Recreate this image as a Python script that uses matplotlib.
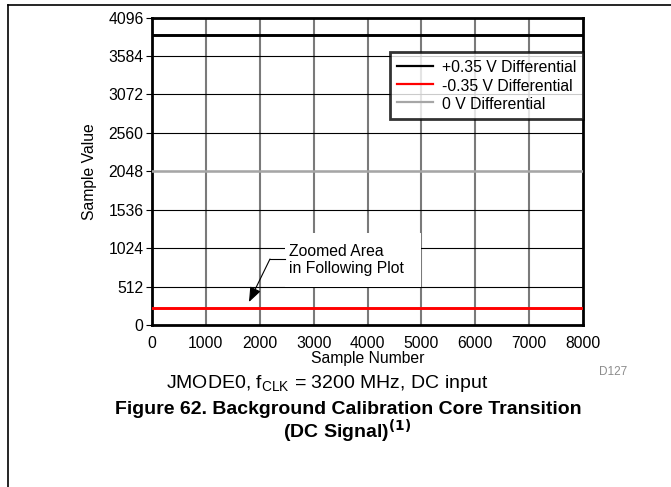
import matplotlib
matplotlib.use("Agg")
from matplotlib import pyplot as plt
from matplotlib.lines import Line2D
from matplotlib.patches import Rectangle

plt.rcParams['font.family'] = ['Liberation Sans', 'DejaVu Sans']

# data
samples = [0, 8000]
pos_diff = [3866, 3866]
neg_diff = [230, 230]
zero_diff = [2046, 2046]
series_labels = ['+0.35 V Differential', '-0.35 V Differential', '0 V Differential']
yticks = [0, 512, 1024, 1536, 2048, 2560, 3072, 3584, 4096]
xticks = [0, 1000, 2000, 3000, 4000, 5000, 6000, 7000, 8000]

W, H = 671, 487
fig = plt.figure(figsize=(W / 100, H / 100), dpi=100)

# page frame lines
fig.add_artist(Line2D([8 / W, 8 / W], [0, 1 - 5 / H], color='black', lw=1.2))
fig.add_artist(Line2D([8 / W, 1], [1 - 5 / H, 1 - 5 / H], color='black', lw=1.2))

ax = fig.add_axes([152 / W, 1 - 325 / H, 431 / W, 307.5 / H])
ax.set_xlim(0, 8000)
ax.set_ylim(0, 4096)
ax.set_xticks(xticks)
ax.set_yticks(yticks)
ax.tick_params(axis='x', length=0, pad=8, labelsize=11.3)
ax.tick_params(axis='y', length=4, width=0.8, pad=2, labelsize=11.3)
for s in ax.spines.values():
    s.set_linewidth(2)

for x in xticks[1:-1]:
    ax.axvline(x, color='#7a7a7a', lw=1.5, zorder=1)
for y in yticks[1:-1]:
    ax.axhline(y, color='black', lw=0.8, zorder=1)

ax.plot(samples, pos_diff, color='black', lw=2.1, zorder=3, label=series_labels[0])
ax.plot(samples, neg_diff, color='#ff0000', lw=2.1, zorder=3, label=series_labels[1])
ax.plot(samples, zero_diff, color='#a6a6a6', lw=1.8, zorder=3, label=series_labels[2])

ax.set_xlabel('Sample Number', fontsize=11.3, labelpad=0)
ax.set_ylabel('Sample Value', fontsize=11.3, labelpad=8)

leg = ax.legend(loc='upper right', bbox_to_anchor=(1.0, 0.888), fontsize=11.3,
                frameon=True, fancybox=False, handlelength=2.3, borderpad=0.45,
                handleheight=1.15, labelspacing=0.15, handletextpad=0.55,
                borderaxespad=0)
leg.get_frame().set_edgecolor('black')
leg.get_frame().set_linewidth(2)
leg.set_zorder(5)
for h in leg.get_lines():
    h.set_linewidth(1.6)

# zoomed-area note
ax.add_patch(Rectangle((2469, 506), 2524, 719, facecolor='white', edgecolor='none', zorder=4))
ax.text(2540, 865, 'Zoomed Area\nin Following Plot', fontsize=11.3, va='center',
        ha='left', linespacing=1.15, zorder=5)
ax.plot([2469, 2190], [879, 879], color='black', lw=0.8, zorder=5)
ax.annotate('', xy=(1800, 306), xytext=(2190, 879), zorder=5,
            arrowprops=dict(arrowstyle='-|>,head_length=0.9,head_width=0.35',
                            color='black', lw=0.8, shrinkA=0, shrinkB=0))

fig.text(613 / W, 1 - 372 / H, 'D127', color='#8c8c8c', fontsize=8.5, ha='center', va='center')
fig.text(327 / W, 1 - 383 / H, r'JMODE0, f$_{\mathregular{CLK}}$ = 3200 MHz, DC input',
         fontsize=14, ha='center', va='center')
fig.text(348 / W, 1 - 409 / H, 'Figure 62. Background Calibration Core Transition',
         fontsize=14, fontweight='bold', ha='center', va='center')
fig.text(347 / W, 1 - 431 / H, r'(DC Signal)$^{\mathbf{(1)}}$',
         fontsize=14, fontweight='bold', ha='center', va='center')

fig.savefig('out.png', dpi=100)
